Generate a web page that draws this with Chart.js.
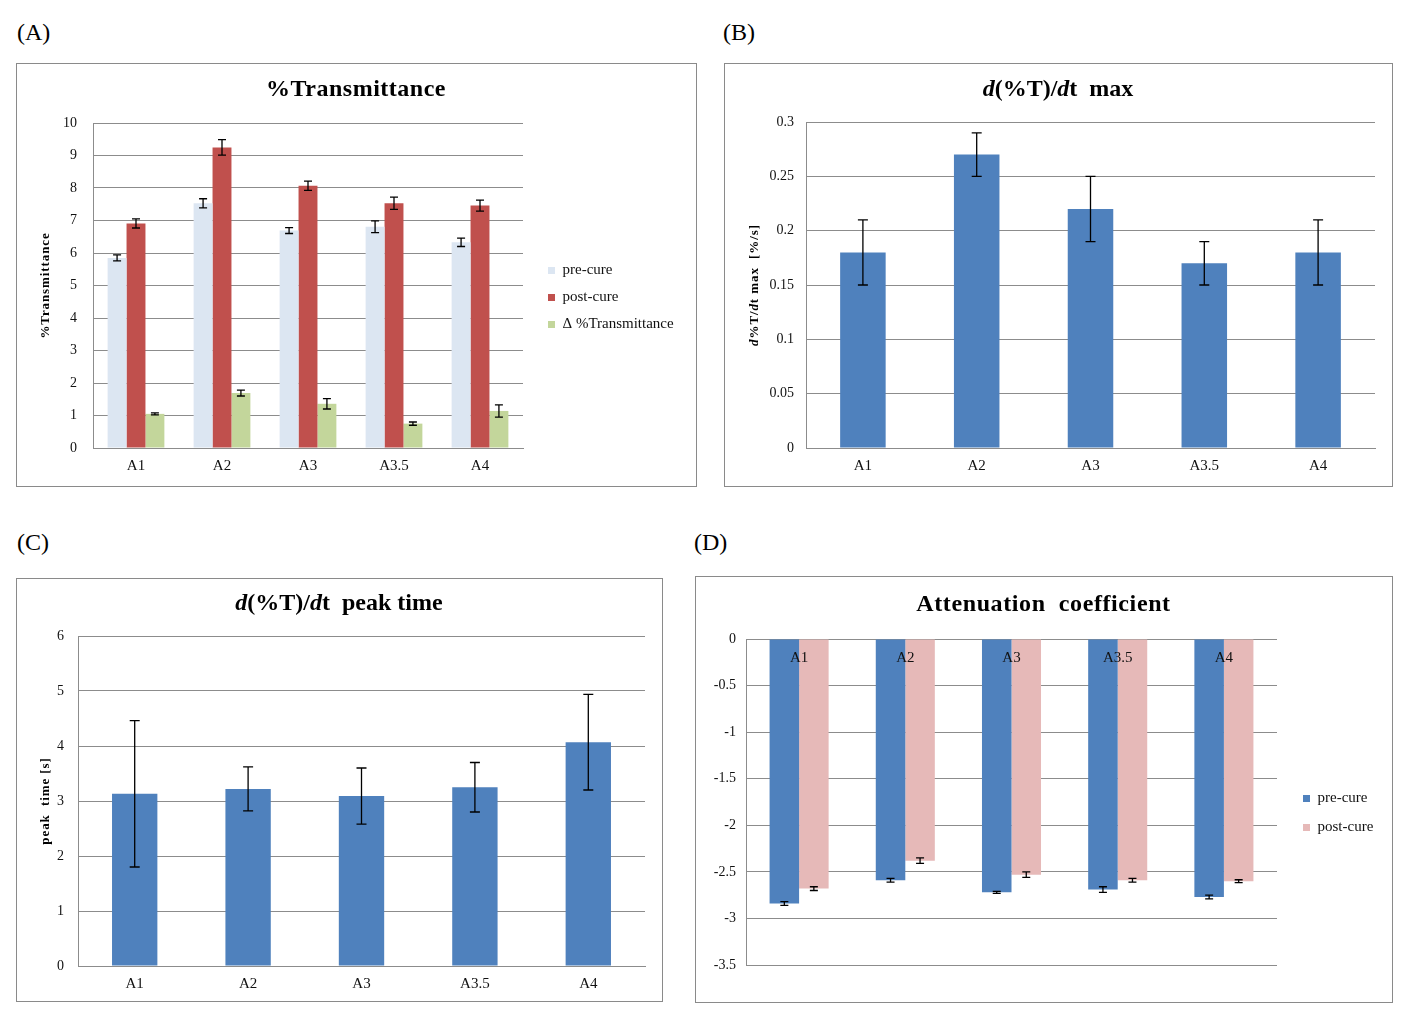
<!DOCTYPE html>
<html>
<head>
<meta charset="utf-8">
<script src="https://cdn.jsdelivr.net/npm/chart.js@4.4.0/dist/chart.umd.min.js"></script>
<style>
  body { margin: 0; background: #fff; width: 1411px; height: 1018px; position: relative; overflow: hidden; font-family: "Liberation Serif", serif; }
  .lbl { position: absolute; font-size: 24px; color: #000; line-height: 28px; }
  .box { position: absolute; border: 1.5px solid #8a8a8a; box-sizing: border-box; }
  .box canvas { position: absolute; left: 0; top: 0; }
</style>
</head>
<body>
<div class="lbl" style="left:17px;top:18px">(A)</div>
<div class="lbl" style="left:723px;top:18px">(B)</div>
<div class="lbl" style="left:17px;top:528px">(C)</div>
<div class="lbl" style="left:694px;top:528px">(D)</div>

<div class="box" style="left:16px;top:63px;width:681px;height:424px"><canvas id="chartA"></canvas></div>
<div class="box" style="left:724px;top:63px;width:669px;height:424px"><canvas id="chartB"></canvas></div>
<div class="box" style="left:16px;top:578px;width:647px;height:424px"><canvas id="chartC"></canvas></div>
<div class="box" style="left:695px;top:576px;width:698px;height:427px"><canvas id="chartD"></canvas></div>

<script>
// ── Data ──
const KATEGORIJE = ["A1", "A2", "A3", "A3.5", "A4"];

// (A) %Transmittance
const T_PRE = [5.85, 7.53, 6.69, 6.81, 6.33];
const T_PRE_ERR = [0.09, 0.14, 0.09, 0.18, 0.13];
const T_POST = [6.91, 9.25, 8.07, 7.53, 7.46];
const T_POST_ERR = [0.14, 0.24, 0.14, 0.19, 0.17];
const T_DELTA = [1.05, 1.69, 1.36, 0.75, 1.14];
const T_DELTA_ERR = [0.03, 0.09, 0.16, 0.05, 0.19];

// (B) d(%T)/dt max
const DT_MAX = [0.18, 0.27, 0.22, 0.17, 0.18];
const DT_MAX_ERR = [0.03, 0.02, 0.03, 0.02, 0.03];

// (C) peak time
const PEAK = [3.13, 3.22, 3.09, 3.25, 4.07];
const PEAK_ERR = [1.33, 0.40, 0.51, 0.45, 0.87];

// (D) attenuation coefficient
const ATT_PRE = [-2.84, -2.59, -2.72, -2.69, -2.77];
const ATT_PRE_ERR = [0.02, 0.02, 0.01, 0.03, 0.02];
const ATT_POST = [-2.68, -2.38, -2.53, -2.59, -2.60];
const ATT_POST_ERR = [0.02, 0.03, 0.03, 0.02, 0.015];

// naslovi: [besedilo, ležeče]
const NASLOV_A = [["%Transmittance", false]];
const NASLOV_B = [["d", true], ["(%T)/", false], ["d", true], ["t  max", false]];
const NASLOV_C = [["d", true], ["(%T)/", false], ["d", true], ["t  peak time", false]];
const NASLOV_D = [["Attenuation  coefficient", false]];
const OS_A = [["%Transmittance", false]];
const OS_B = [["d", true], ["%T/", false], ["d", true], ["t max  [%/s]", false]];
const OS_C = [["peak  time [s]", false]];

const FONT = '"Liberation Serif", serif';
const GRID = "#8c8c8c";
const LEG_SIZE = 15;

// ── Plugins ──
const errorBars = {
  id: "errorBars",
  afterDatasetsDraw(chart, args, opts) {
    const { ctx } = chart;
    const y = chart.scales.y;
    const c = opts.cap || 4;
    chart.data.datasets.forEach((ds, di) => {
      if (!ds.errors) return;
      chart.getDatasetMeta(di).data.forEach((bar, i) => {
        const v = ds.data[i], e = ds.errors[i];
        const y1 = y.getPixelForValue(v + e), y2 = y.getPixelForValue(v - e);
        ctx.save();
        ctx.strokeStyle = "#000";
        ctx.lineWidth = 1.3;
        ctx.beginPath();
        ctx.moveTo(bar.x, y1); ctx.lineTo(bar.x, y2);
        ctx.moveTo(bar.x - c, y1); ctx.lineTo(bar.x + c, y1);
        ctx.moveTo(bar.x - c, y2); ctx.lineTo(bar.x + c, y2);
        ctx.stroke();
        ctx.restore();
      });
    });
  }
};

function drawRich(ctx, segs, x, y, size, rotate, spacing) {
  ctx.save();
  ctx.translate(x, y);
  if (rotate) ctx.rotate(-Math.PI / 2);
  ctx.textBaseline = "middle";
  ctx.textAlign = "left";
  ctx.fillStyle = "#000";
  ctx.letterSpacing = (spacing || 0) + "px";
  const fonts = segs.map(s => (s[1] ? "italic " : "") + "bold " + size + "px " + FONT);
  let total = 0;
  const ws = segs.map((s, i) => { ctx.font = fonts[i]; const w = ctx.measureText(s[0]).width; total += w; return w; });
  let cx = -total / 2;
  segs.forEach((s, i) => { ctx.font = fonts[i]; ctx.fillText(s[0], cx, 0); cx += ws[i]; });
  ctx.restore();
}

const richText = {
  id: "richText",
  afterDraw(chart, args, o) {
    const { ctx, chartArea } = chart;
    if (o.title) drawRich(ctx, o.title, chart.width / 2, o.titleY, o.titleSize || 24, false, o.titleSpacing);
    if (o.ytitle) drawRich(ctx, o.ytitle, o.ytitleX, (chartArea.top + chartArea.bottom) / 2, 13, true, 0.9);
    if (o.inside) {
      const x = chart.scales.x, y = chart.scales.y;
      ctx.save();
      ctx.font = "15px " + FONT;
      ctx.fillStyle = "#111";
      ctx.textAlign = "center";
      ctx.textBaseline = "middle";
      chart.data.labels.forEach((l, i) => ctx.fillText(l, x.getPixelForTick(i), y.getPixelForValue(0) + 19));
      ctx.restore();
    }
  }
};

// ── Chart builder ──
function makeChart(id, cfg) {
  const { W, H, plot } = cfg;
  const canvas = document.getElementById(id);
  canvas.width = W; canvas.height = H;
  canvas.style.width = W + "px"; canvas.style.height = H + "px";

  const padding = { left: 0, top: plot.t, right: cfg.legend ? 20 : W - plot.r, bottom: cfg.inside ? H - plot.b : 0 };

  const scales = {
    x: {
      display: !cfg.inside,
      grid: { display: true, drawOnChartArea: false, drawTicks: false, color: GRID },
      border: { color: GRID },
      ticks: { color: "#111", font: { family: FONT, size: 15 }, padding: 9 },
      afterFit: s => { s.height = H - plot.b; }
    },
    y: {
      min: cfg.yMin, max: cfg.yMax,
      grid: { color: GRID, drawTicks: false },
      border: { color: GRID },
      ticks: {
        stepSize: cfg.step, color: "#111", font: { family: FONT, size: 14 }, padding: cfg.tickPad,
        callback: v => String(parseFloat(v.toFixed(3)))
      },
      afterFit: s => { s.width = plot.l; }
    }
  };
  if (cfg.legend) {
    scales.spacer = {
      type: "linear", position: "right", display: true,
      grid: { display: false }, border: { display: false }, ticks: { display: false },
      afterFit: s => { s.width = cfg.spacer; }
    };
  }

  const chart = new Chart(canvas, {
    type: "bar",
    data: { labels: KATEGORIJE, datasets: cfg.datasets },
    options: {
      responsive: false,
      animation: false,
      layout: { padding },
      datasets: { bar: { categoryPercentage: cfg.catPct, barPercentage: cfg.barPct, borderWidth: 0 } },
      plugins: {
        legend: cfg.legend ? {
          display: true, position: "right", fullSize: false, maxWidth: 400,
          title: { display: true, text: " ", font: { size: 10 }, padding: { top: 0, bottom: cfg.legendShift } },
          labels: { boxWidth: 7, boxHeight: 7, padding: cfg.legendPad, color: "#111", font: { family: FONT, size: LEG_SIZE } }
        } : { display: false },
        tooltip: { enabled: false },
        errorBars: { cap: cfg.cap },
        richText: {
          title: cfg.title, titleY: cfg.titleY, titleSpacing: cfg.titleSpacing,
          ytitle: cfg.ytitle, ytitleX: cfg.ytitleX,
          inside: cfg.inside
        }
      },
      scales
    },
    plugins: [errorBars, richText]
  });

  // poravnaj desni rob risalne površine in legendo
  if (cfg.legend) {
    const area = chart.chartArea;
    const hb = chart.legend.legendHitBoxes[0];
    const dx = area.right - plot.r;
    const boxDiff = cfg.legendX - plot.r - hb.left + area.right;
    cfg.spacer += boxDiff;
    chart.options.layout.padding.right = padding.right + dx - boxDiff;
    chart.update();
  }
  return chart;
}

// ── (A) ──
makeChart("chartA", {
  W: 678, H: 421,
  plot: { l: 76, t: 59, r: 506, b: 384 },
  yMin: 0, yMax: 10, step: 1, tickPad: 16,
  catPct: 0.66, barPct: 1, cap: 4,
  legend: true, legendPad: 12, legendShift: 12, spacer: 12, legendX: 531,
  title: NASLOV_A, titleY: 26, titleSpacing: 0.5, ytitle: OS_A, ytitleX: 29,
  datasets: [
    { label: "pre-cure", data: T_PRE, errors: T_PRE_ERR, backgroundColor: "#dce6f2" },
    { label: "post-cure", data: T_POST, errors: T_POST_ERR, backgroundColor: "#c0504d" },
    { label: "Δ %Transmittance", data: T_DELTA, errors: T_DELTA_ERR, backgroundColor: "#c3d69b" }
  ]
});

// ── (B) ──
makeChart("chartB", {
  W: 666, H: 421,
  plot: { l: 81, t: 58, r: 650, b: 384 },
  yMin: 0, yMax: 0.3, step: 0.05, tickPad: 12,
  catPct: 0.8, barPct: 0.5, cap: 5,
  title: NASLOV_B, titleY: 26, ytitle: OS_B, ytitleX: 30,
  datasets: [
    { label: "d(%T)/dt max", data: DT_MAX, errors: DT_MAX_ERR, backgroundColor: "#4f81bd" }
  ]
});

// ── (C) ──
makeChart("chartC", {
  W: 644, H: 421,
  plot: { l: 61, t: 57, r: 628, b: 387 },
  yMin: 0, yMax: 6, step: 1, tickPad: 14,
  catPct: 0.8, barPct: 0.5, cap: 5,
  title: NASLOV_C, titleY: 25, ytitle: OS_C, ytitleX: 29,
  datasets: [
    { label: "peak time", data: PEAK, errors: PEAK_ERR, backgroundColor: "#4f81bd" }
  ]
});

// ── (D) ──
makeChart("chartD", {
  W: 695, H: 424,
  plot: { l: 50, t: 62, r: 581, b: 406 },
  yMin: -3.5, yMax: 0, step: 0.5, tickPad: 10,
  catPct: 0.556, barPct: 1, cap: 4,
  legend: true, legendPad: 14, legendShift: 10, spacer: 10, legendX: 607,
  inside: true,
  title: NASLOV_D, titleY: 28, titleSpacing: 0.6,
  datasets: [
    { label: "pre-cure", data: ATT_PRE, errors: ATT_PRE_ERR, backgroundColor: "#4f81bd" },
    { label: "post-cure", data: ATT_POST, errors: ATT_POST_ERR, backgroundColor: "#e6b9b8" }
  ]
});
</script>
</body>
</html>
